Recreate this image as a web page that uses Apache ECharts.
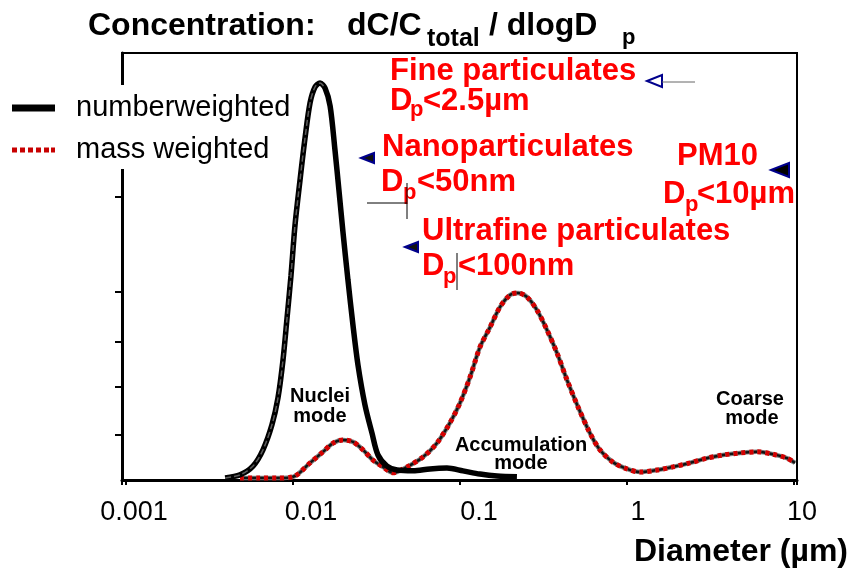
<!DOCTYPE html>
<html>
<head>
<meta charset="utf-8">
<script src="https://cdn.jsdelivr.net/npm/echarts@6/dist/echarts.min.js"></script>
<style>
  html, body { margin: 0; padding: 0; background: #fff; }
  #chart { width: 852px; height: 574px; }
</style>
</head>
<body>
<div id="chart"></div>
<script>
// Particle diameters (µm) and normalised concentration dC/Ctotal/dlogDp
const numberDiameter = [0.00392, 0.00482, 0.00576, 0.00661, 0.00748, 0.00813, 0.00871, 0.00921, 0.00973, 0.01028,
  0.01102, 0.0118, 0.01265, 0.01355, 0.01452, 0.01556, 0.01668, 0.01784, 0.01884, 0.01991,
  0.02133, 0.02286, 0.02449, 0.02698, 0.02972, 0.03228, 0.03656, 0.04198, 0.05242, 0.06607,
  0.08356, 0.1042, 0.1318, 0.1667, 0.2193];
const numberConc = [0.005, 0.013, 0.035, 0.076, 0.139, 0.207, 0.302, 0.408, 0.516, 0.642,
  0.756, 0.861, 0.950, 0.990, 1.000, 0.987, 0.942, 0.831, 0.730, 0.625,
  0.504, 0.390, 0.290, 0.189, 0.118, 0.063, 0.035, 0.025, 0.023, 0.028,
  0.030, 0.023, 0.015, 0.010, 0.008];

const massDiameter = [0.00482, 0.00634, 0.00802, 0.0100, 0.01265, 0.01513, 0.01738, 0.01991, 0.02286,
  0.02625, 0.03013, 0.03459, 0.03971, 0.04818, 0.06004, 0.07278, 0.08706, 0.1000, 0.1148,
  0.1318, 0.1514, 0.1738, 0.1993, 0.2225, 0.2518, 0.2891, 0.3319, 0.3810, 0.4374,
  0.5094, 0.6004, 0.6890, 0.8237, 1.000, 1.196, 1.514, 1.885, 2.383, 3.013,
  3.758, 4.753, 6.001, 7.484, 9.080, 10.14];
const massConc = [0.005, 0.005, 0.005, 0.008, 0.043, 0.071, 0.093, 0.101, 0.096,
  0.076, 0.050, 0.033, 0.018, 0.033, 0.058, 0.093, 0.144, 0.194, 0.259,
  0.335, 0.385, 0.436, 0.466, 0.471, 0.461, 0.428, 0.378, 0.320, 0.252,
  0.184, 0.118, 0.076, 0.045, 0.028, 0.020, 0.025, 0.033, 0.043, 0.055,
  0.063, 0.068, 0.071, 0.065, 0.055, 0.043];

const xTickLabels = ['0.001', '0.01', '0.1', '1', '10'];
const yTickValues = [0.113, 0.234, 0.348, 0.474, 0.713, 0.83, 0.95];

const FONT = "'Liberation Sans', Arial, Helvetica, sans-serif";

const numberData = numberDiameter.map((d, i) => [d, numberConc[i]]);
const massData = massDiameter.map((d, i) => [d, massConc[i]]);
const peakIndex = numberConc.indexOf(Math.max(...numberConc));

// text helper: x = left (or centre/right) edge, b = baseline
function txt(text, x, b, size, color, align) {
  return {
    type: 'text', x: x, y: b - 0.35 * size, z: 100,
    style: {
      text: text, fill: color,
      font: 'bold ' + size + 'px ' + FONT,
      textAlign: align || 'left', textVerticalAlign: 'middle'
    }
  };
}
function tri(pts, fill) {
  return { type: 'polygon', z: 100, shape: { points: pts },
    style: { fill: fill, stroke: '#00008c', lineWidth: 2 } };
}
function seg(x1, y1, x2, y2, color) {
  return { type: 'line', z: 100, shape: { x1: x1, y1: y1, x2: x2, y2: y2 },
    style: { stroke: color || '#000', lineWidth: 1 } };
}

const RED = '#ff0000';
const labelPad = [16, 36, 38, 22, 16];
const rich = {};
labelPad.forEach((p, i) => {
  rich['t' + i] = { fontSize: 27, fontFamily: FONT, color: '#000', padding: [0, 0, 0, p] };
});

const chart = echarts.init(document.getElementById('chart'), null, { renderer: 'canvas' });
chart.setOption({
  animation: false,
  backgroundColor: '#fff',
  grid: { left: 122, right: 55, top: 53, bottom: 94, show: true, borderColor: '#000', borderWidth: 2, backgroundColor: 'transparent' },
  legend: {
    data: [
      { name: 'numberweighted', icon: 'path://M0,0h43v7h-43z', itemStyle: { color: '#000' } },
      { name: 'mass weighted',
        icon: 'path://M0,0h5v5h-5zM8,0h5v5h-5zM16,0h5v5h-5zM24,0h5v5h-5zM32,0h5v5h-5zM39,0h4v5h-4z',
        itemStyle: { color: '#c80000' } }
    ],
    orient: 'vertical', left: 0, top: 85,
    padding: [8, 8, 4, 12], itemGap: 12,
    itemWidth: 43, itemHeight: 7,
    backgroundColor: '#fff',
    textStyle: { fontFamily: FONT, fontSize: 29, color: '#000', lineHeight: 30, padding: [0, 0, 0, 16] }
  },
  xAxis: {
    type: 'log', logBase: 10,
    min: 0.000946, max: 10.43,
    axisLine: { show: true, lineStyle: { color: '#000', width: 3 } },
    axisTick: { show: true, inside: false, length: 5, lineStyle: { color: '#000', width: 2 } },
    minorTick: { show: false },
    splitLine: { show: false },
    axisLabel: {
      margin: 19, fontSize: 27, fontFamily: FONT, color: '#000',
      showMinLabel: true, showMaxLabel: true,
      formatter: function (v) {
        const e = Math.log10(v);
        const r = Math.round(e);
        if (Math.abs(e - r) > 1e-6) return '';
        const i = r + 3;
        if (i < 0 || i >= xTickLabels.length) return '';
        return '{t' + i + '|' + xTickLabels[i] + '}';
      },
      rich: rich
    }
  },
  yAxis: {
    type: 'value', min: 0, max: 1.0756, interval: 0.12,
    axisLine: { show: true, lineStyle: { color: '#000', width: 3 } },
    axisTick: { show: true, inside: false, length: 7, lineStyle: { color: '#000', width: 2 }, customValues: yTickValues },
    axisLabel: { show: false },
    splitLine: { show: false }
  },
  series: [
    { name: 'mass-base', type: 'line', data: massData, smooth: 0.3, symbol: 'none', silent: true,
      lineStyle: { color: '#7f7f7f', width: 4.5 }, z: 2 },
    { name: 'mass-dash', type: 'line', data: massData, smooth: 0.3, symbol: 'none', silent: true,
      lineStyle: { color: '#111', width: 2.5, type: [4, 4], dashOffset: 4 }, z: 3 },
    { name: 'mass weighted', type: 'line', data: massData, smooth: 0.3, symbol: 'none',
      lineStyle: { color: '#d40000', width: 5, type: [4, 4] }, itemStyle: { color: '#d40000' }, z: 4 },
    { name: 'numberweighted', type: 'line', data: numberData, smooth: 0.3, symbol: 'none',
      lineStyle: { color: '#000', width: 5.5 }, itemStyle: { color: '#000' }, z: 5 },
    { name: 'number-core', type: 'line', data: numberData.slice(0, peakIndex + 2), smooth: 0.3, symbol: 'none', silent: true,
      lineStyle: { color: '#5c5c5c', width: 1.5, type: [6, 3] }, z: 6 }
  ],
  graphic: [
    // title
    txt('Concentration:', 88, 37, 32, '#000'),
    txt('dC/C', 347, 37, 32, '#000'),
    txt('total', 427, 48, 25, '#000'),
    txt('/ dlogD', 489, 37, 32, '#000'),
    txt('p', 622, 46, 22, '#000'),
    // axis name
    txt('Diameter (µm)', 848, 563, 32, '#000', 'right'),
    // size-class annotations
    txt('Fine particulates', 390, 82, 31, RED),
    txt('D', 390, 112, 31, RED), txt('p', 410, 118, 22, RED), txt('<2.5µm', 423, 112, 31, RED),
    tri([[647, 81], [662, 75], [662, 87]], '#fff'),
    seg(662, 82, 695, 82, '#666'),

    txt('Nanoparticulates', 382, 158, 31, RED),
    txt('D', 381, 193, 31, RED), txt('p', 403, 201, 22, RED), txt('<50nm', 417, 193, 31, RED),
    tri([[361, 158], [374, 153], [374, 163]], '#111'),
    seg(367, 203, 407, 203), seg(407, 183, 407, 219),

    txt('Ultrafine particulates', 422, 242, 31, RED),
    txt('D', 422, 277, 31, RED), txt('p', 443, 285, 22, RED), txt('<100nm', 458, 277, 31, RED),
    tri([[405, 247], [418, 242], [418, 252]], '#111'),
    seg(457, 253, 457, 290),

    txt('PM10', 677, 167, 31, RED),
    txt('D', 663, 205, 31, RED), txt('p', 685, 213, 22, RED), txt('<10µm', 697, 205, 31, RED),
    tri([[771, 170], [789, 163], [789, 177]], '#000'),

    // mode labels
    txt('Nuclei', 320, 403, 20, '#000', 'center'),
    txt('mode', 320, 423, 20, '#000', 'center'),
    txt('Accumulation', 521, 452, 20, '#000', 'center'),
    txt('mode', 521, 470, 20, '#000', 'center'),
    txt('Coarse', 750, 406, 20, '#000', 'center'),
    txt('mode', 752, 425, 20, '#000', 'center')
  ]
});
</script>
</body>
</html>
